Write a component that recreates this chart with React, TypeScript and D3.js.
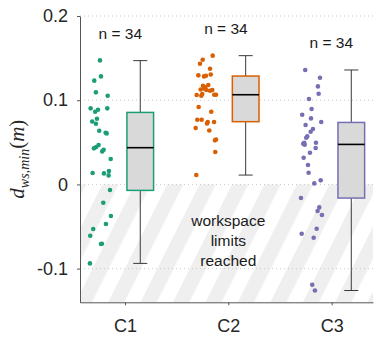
import { useEffect, useRef } from "react";
import * as d3 from "d3";

const categories = ["C1", "C2", "C3"];
const groupColors = ["#1b9e77", "#d95f02", "#7570b3"];

// d_ws,min per trial (m) and the horizontal jitter of each dot (category units)
const c1Values = [
  0.1473, 0.1232, 0.1283, 0.1093, 0.1053, 0.0903, 0.0903, 0.0887, 0.0863, 0.0748, 0.078, 0.0721,
  0.0638, 0.0614, 0.0606, 0.0428, 0.0468, 0.0444, 0.0412, 0.0392, 0.0302, 0.0135, 0.0131, 0.0159,
  0.0107, -0.0067, -0.0217, -0.0375, -0.047, -0.053, -0.0609, -0.0704, -0.0708, -0.0938,
];
const c1Jitter = [
  -0.242, -0.297, -0.232, -0.281, -0.167, -0.332, -0.171, -0.261, -0.288, -0.317, -0.271, -0.281,
  -0.249, -0.187, -0.177, -0.3, -0.255, -0.278, -0.206, -0.22, -0.138, -0.313, -0.203, -0.155,
  -0.158, -0.145, -0.21, -0.136, -0.184, -0.307, -0.336, -0.223, -0.232, -0.339,
];
const c2Values = [
  0.1529, 0.1481, 0.1433, 0.1374, 0.1306, 0.1295, 0.1283, 0.1291, 0.1181, 0.1172, 0.1152, 0.114,
  0.1128, 0.1121, 0.1121, 0.1113, 0.1062, 0.1053, 0.1074, 0.1065, 0.1065, 0.0919, 0.0863, 0.0768,
  0.0768, 0.0741, 0.0724, 0.0741, 0.067, 0.0641, 0.0534, 0.0523, 0.0385, 0.0112,
];
const c2Jitter = [
  -0.151, -0.248, -0.274, -0.177, -0.17, -0.29, -0.235, -0.216, -0.194, -0.245, -0.223, -0.235,
  -0.267, -0.213, -0.155, -0.177, -0.306, -0.261, -0.252, -0.136, -0.119, -0.287, -0.165, -0.3,
  -0.258, -0.199, -0.206, -0.138, -0.316, -0.184, -0.119, -0.129, -0.126, -0.31,
];
const c3Values = [
  0.1359, 0.1267, 0.1164, 0.1077, 0.1014, 0.0895, 0.0828, 0.0784, 0.0741, 0.0705, 0.0658, 0.0626,
  0.057, 0.0555, 0.0483, 0.0495, 0.0471, 0.0495, 0.0432, 0.0376, 0.0317, 0.023, 0.0139, 0.0012,
  0.0048, -0.0162, -0.0273, -0.0316, -0.0363, -0.0586, -0.0526, -0.0633, -0.1191, -0.1259,
];
const c3Jitter = [
  -0.256, -0.113, -0.133, -0.126, -0.22, -0.194, -0.285, -0.2, -0.101, -0.252, -0.181, -0.203,
  -0.236, -0.246, -0.275, -0.265, -0.261, -0.152, -0.155, -0.21, -0.271, -0.229, -0.223, -0.168,
  -0.106, -0.297, -0.12, -0.136, -0.094, -0.29, -0.145, -0.174, -0.188, -0.162,
];

// box plot statistics
const whiskerLow = [-0.0938, 0.0111, -0.126];
const quartile1 = [-0.0071, 0.0745, -0.0162];
const medians = [0.0436, 0.1065, 0.0475];
const quartile3 = [0.0855, 0.1287, 0.0736];
const whiskerHigh = [0.147, 0.1529, 0.1359];
const boxOffsets = [0.148, 0.168, 0.19];

const countLabels = ["n = 34", "n = 34", "n = 34"];
const yTicks = [-0.1, 0, 0.1, 0.2];
const yTickLabels = ["-0.1", "0", "0.1", "0.2"];
const zoneLabel = ["workspace", "limits", "reached"];

const SANS = "'Liberation Sans', Arial, sans-serif";

export default function App() {
  const svgRef = useRef<SVGSVGElement>(null);

  useEffect(() => {
    if (!svgRef.current) return;
    const svg = d3.select(svgRef.current);
    svg.selectAll("*").remove();

    const x = d3.scaleLinear().domain([0.565, 3.4]).range([80, 373]);
    const y = d3.scaleLinear().domain([-0.14, 0.2]).range([302.3, 16]);
    const unit = x(2) - x(1);
    const [left, right] = x.range();
    const [bottom, top] = y.range();

    const groups = [
      { values: c1Values, jitter: c1Jitter },
      { values: c2Values, jitter: c2Jitter },
      { values: c3Values, jitter: c3Jitter },
    ];

    // hatched "workspace limits reached" zone
    const defs = svg.append("defs");
    const pat = defs.append("pattern")
      .attr("id", "hatch")
      .attr("patternUnits", "userSpaceOnUse")
      .attr("width", 29)
      .attr("height", 10)
      .attr("patternTransform", "rotate(26.6)");
    pat.append("rect").attr("width", 29).attr("height", 10).attr("fill", "#ffffff");
    pat.append("rect").attr("width", 14.5).attr("height", 10).attr("fill", "#efefef");

    svg.append("rect")
      .attr("x", left)
      .attr("y", y(0))
      .attr("width", right - left)
      .attr("height", bottom - y(0))
      .attr("fill", "url(#hatch)");

    // dotted grid
    svg.append("g")
      .selectAll("line")
      .data(yTicks)
      .enter().append("line")
      .attr("x1", left)
      .attr("x2", right)
      .attr("y1", d => y(d))
      .attr("y2", d => y(d))
      .attr("stroke", "#c8c8c8")
      .attr("stroke-width", 1)
      .attr("stroke-dasharray", "1 3");

    // zone label
    svg.append("text")
      .attr("text-anchor", "middle")
      .attr("font-family", SANS)
      .attr("font-size", 15.5)
      .attr("fill", "#1a1a1a")
      .selectAll("tspan")
      .data(zoneLabel)
      .enter().append("tspan")
      .attr("x", x(2))
      .attr("y", (_, i) => y(0) + 42 + i * 20)
      .text(d => d);

    groups.forEach((grp, gi) => {
      const cat = gi + 1;
      const color = groupColors[gi];

      // jittered raw points
      svg.append("g")
        .selectAll("circle")
        .data(grp.values)
        .enter().append("circle")
        .attr("cx", (_, i) => x(cat + grp.jitter[i]))
        .attr("cy", d => y(d))
        .attr("r", 2.3)
        .attr("fill", color);

      // box plot
      const bx = x(cat + boxOffsets[gi]);
      const bw = unit * 0.258;
      const cap = unit * 0.068;
      const g = svg.append("g");
      g.append("line")
        .attr("x1", bx).attr("x2", bx)
        .attr("y1", y(whiskerLow[gi])).attr("y2", y(whiskerHigh[gi]))
        .attr("stroke", "#3a3a3a").attr("stroke-width", 1);
      [whiskerLow[gi], whiskerHigh[gi]].forEach(v => {
        g.append("line")
          .attr("x1", bx - cap).attr("x2", bx + cap)
          .attr("y1", y(v)).attr("y2", y(v))
          .attr("stroke", "#3a3a3a").attr("stroke-width", 1);
      });
      g.append("rect")
        .attr("x", bx - bw / 2)
        .attr("y", y(quartile3[gi]))
        .attr("width", bw)
        .attr("height", y(quartile1[gi]) - y(quartile3[gi]))
        .attr("fill", "#d9d9d9")
        .attr("stroke", color)
        .attr("stroke-width", 1.5);
      g.append("line")
        .attr("x1", bx - bw / 2).attr("x2", bx + bw / 2)
        .attr("y1", y(medians[gi])).attr("y2", y(medians[gi]))
        .attr("stroke", "#000").attr("stroke-width", 1.6);

      // sample size label, between the dots and the box
      const mid = ((d3.mean(grp.jitter) ?? 0) + boxOffsets[gi]) / 2;
      svg.append("text")
        .attr("x", x(cat + mid))
        .attr("y", y(whiskerHigh[gi]) - 21.5)
        .attr("text-anchor", "middle")
        .attr("font-family", SANS)
        .attr("font-size", 15.5)
        .attr("fill", "#1a1a1a")
        .text(countLabels[gi]);
    });

    // axes
    const yAxis = d3.axisLeft(y)
      .tickValues(yTicks)
      .tickFormat((_, i) => yTickLabels[i])
      .tickSize(3)
      .tickSizeOuter(0)
      .tickPadding(9);
    const xAxis = d3.axisBottom(x)
      .tickValues([1, 2, 3])
      .tickFormat((_, i) => categories[i])
      .tickSize(3)
      .tickSizeOuter(0)
      .tickPadding(13.5);

    const ya = svg.append("g").attr("transform", `translate(${left},0)`).call(yAxis);
    const xa = svg.append("g").attr("transform", `translate(0,${bottom})`).call(xAxis);
    [ya, xa].forEach(a => {
      a.attr("font-family", SANS).attr("font-size", 18);
      a.select(".domain").attr("stroke", "#555");
      a.selectAll(".tick line").attr("stroke", "#555");
      a.selectAll(".tick text").attr("fill", "#262626");
    });

    // y axis title: d_{ws,min}(m)
    const title = svg.append("text")
      .attr("transform", `translate(24,${(top + bottom) / 2}) rotate(-90)`)
      .attr("text-anchor", "middle")
      .attr("font-family", "'Liberation Serif', 'Times New Roman', serif")
      .attr("font-size", 21)
      .attr("fill", "#262626");
    title.append("tspan").attr("font-style", "italic").text("d");
    title.append("tspan").attr("font-style", "italic").attr("font-size", 14).attr("dy", 5).text("ws,min");
    title.append("tspan").attr("dy", -5).text("(");
    title.append("tspan").attr("font-style", "italic").text("m");
    title.append("tspan").text(")");
  }, []);

  return (
    <svg
      ref={svgRef}
      width={374}
      height={338}
      style={{ position: "absolute", left: 0, top: 0, background: "#fff" }}
    />
  );
}
